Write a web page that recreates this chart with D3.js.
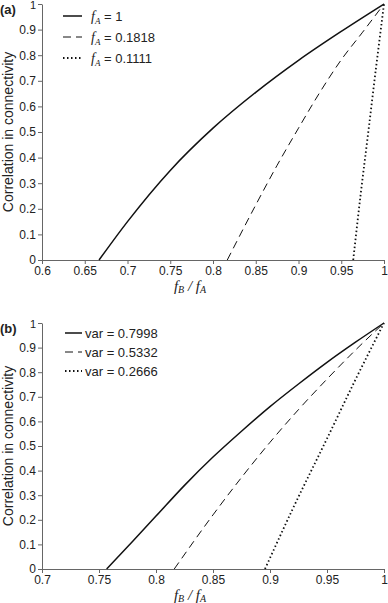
<!DOCTYPE html>
<html>
<head>
<meta charset="utf-8">
<script src="https://cdn.jsdelivr.net/npm/d3@7"></script>
<style>
  body { margin: 0; background: #fff; }
  svg text { font-family: "Liberation Sans", Arial, sans-serif; fill: #222; }
  .it { font-family: "Liberation Serif", "Times New Roman", serif; font-style: italic; }
</style>
</head>
<body>
<svg id="chart" width="388" height="603"></svg>
<script>
// panel (a): f_B/f_A vs correlation, one curve per f_A
var fA1X     = [0.6667, 0.7, 0.75, 0.8, 0.85, 0.9, 0.95, 1];
var fA1Y     = [0, 0.15, 0.35, 0.515, 0.655, 0.78, 0.893, 1];
var fA1818X  = [0.8167, 0.85, 0.875, 0.9, 0.925, 0.95, 0.975, 1];
var fA1818Y  = [0, 0.215, 0.37, 0.515, 0.655, 0.782, 0.89, 1];
var fA1111X  = [0.964, 0.973, 0.982, 0.991, 1];
var fA1111Y  = [0, 0.265, 0.51, 0.76, 1];
var legendA  = ['1', '0.1818', '0.1111'];

// panel (b): one curve per var
var var7998X = [0.7567, 0.78, 0.8, 0.825, 0.85, 0.875, 0.9, 0.925, 0.95, 0.975, 1];
var var7998Y = [0, 0.115, 0.215, 0.34, 0.455, 0.56, 0.66, 0.752, 0.84, 0.922, 1];
var var5332X = [0.816, 0.85, 0.875, 0.9, 0.925, 0.95, 0.975, 1];
var var5332Y = [0, 0.22, 0.372, 0.515, 0.648, 0.772, 0.89, 1];
var var2666X = [0.8956, 0.92, 0.95, 0.975, 1];
var var2666Y = [0, 0.245, 0.53, 0.77, 1];
var legendB  = ['0.7998', '0.5332', '0.2666'];

var xTicksA = [0.6, 0.65, 0.7, 0.75, 0.8, 0.85, 0.9, 0.95, 1];
var xTicksB = [0.7, 0.75, 0.8, 0.85, 0.9, 0.95, 1];
var yTicks  = [0, 0.1, 0.2, 0.3, 0.4, 0.5, 0.6, 0.7, 0.8, 0.9, 1];

var styles = [
    { width: 1.5, dash: null },
    { width: 1, dash: '8,5' },
    { width: 1.8, dash: '1.5,2.5' }
];

var svg = d3.select('#chart');

function zip(xs, ys) {
    return xs.map(function(x, i) { return [x, ys[i]]; });
}

function panel(opt) {
    var x = d3.scaleLinear().domain(opt.xDomain).range([42, 384]);
    var y = d3.scaleLinear().domain([0, 1]).range([opt.bottom, opt.top]);
    var g = svg.append('g');

    // axes
    var xAxis = d3.axisBottom(x).tickValues(opt.xTicks).tickSize(4).tickSizeOuter(0)
        .tickFormat(function(d) { return d3.format('')(+d.toFixed(2)); });
    var yAxis = d3.axisLeft(y).tickValues(yTicks).tickSize(4).tickSizeOuter(0)
        .tickFormat(function(d) { return d3.format('')(+d.toFixed(1)); });

    var gx = g.append('g').attr('transform', 'translate(0,' + opt.bottom + ')').call(xAxis);
    var gy = g.append('g').attr('transform', 'translate(42,0)').call(yAxis);
    [gx, gy].forEach(function(a) {
        a.select('.domain').attr('stroke', '#666');
        a.selectAll('.tick line').attr('stroke', '#666');
        a.selectAll('.tick text').attr('font-size', 12).attr('fill', '#222')
            .attr('font-family', '"Liberation Sans", Arial, sans-serif');
    });
    gx.selectAll('.tick text').attr('y', 5).attr('dy', '0.85em');
    gy.selectAll('.tick text').attr('x', -6);
    // keep the top "1" label inside the page
    gy.selectAll('.tick text').filter(function(d) { return d === 1; })
        .attr('font-size', 11).attr('dy', '0.45em');

    // curves
    var line = d3.line()
        .x(function(d) { return x(d[0]); })
        .y(function(d) { return y(d[1]); })
        .curve(d3.curveMonotoneX);

    opt.series.forEach(function(s, i) {
        g.append('path')
            .attr('d', line(s))
            .attr('fill', 'none')
            .attr('stroke', '#111')
            .attr('stroke-width', styles[i].width)
            .attr('stroke-dasharray', styles[i].dash);
    });

    // legend
    opt.legend.forEach(function(lab, i) {
        var ly = opt.legendY + i * opt.legendGap;
        g.append('line')
            .attr('x1', opt.legendX1).attr('x2', 82)
            .attr('y1', ly).attr('y2', ly)
            .attr('stroke', '#111')
            .attr('stroke-width', styles[i].width)
            .attr('stroke-dasharray', styles[i].dash);
        var t = g.append('text').attr('x', opt.legendTextX).attr('y', ly + 4.5).attr('font-size', 13);
        if (opt.kind === 'fA') {
            t.append('tspan').attr('class', 'it').attr('font-size', 14).text('f');
            t.append('tspan').attr('class', 'it').attr('font-size', 9).attr('dy', 3).text('A');
            t.append('tspan').attr('dy', -3).text(' = ' + lab);
        } else {
            t.text('var = ' + lab);
        }
    });

    // panel label
    g.append('text').attr('x', 0).attr('y', opt.top + 10)
        .attr('font-size', 13).attr('font-weight', 'bold').text(opt.label);

    // y title
    g.append('text')
        .attr('transform', 'translate(13,' + ((opt.top + opt.bottom) / 2) + ') rotate(-90)')
        .attr('text-anchor', 'middle').attr('font-size', 14)
        .text('Correlation in connectivity');

    // x title f_B / f_A
    var xt = g.append('text').attr('x', 190).attr('y', opt.bottom + 31)
        .attr('text-anchor', 'middle').attr('font-size', 15);
    xt.append('tspan').attr('class', 'it').text('f');
    xt.append('tspan').attr('class', 'it').attr('font-size', 10).attr('dy', 2).text('B');
    xt.append('tspan').attr('class', 'it').attr('dy', -2).text(' / f');
    xt.append('tspan').attr('class', 'it').attr('font-size', 10).attr('dy', 2).text('A');
}

panel({
    label: '(a)', kind: 'fA',
    xDomain: [0.6, 1], xTicks: xTicksA, top: 4, bottom: 260,
    series: [zip(fA1X, fA1Y), zip(fA1818X, fA1818Y), zip(fA1111X, fA1111Y)],
    legend: legendA, legendY: 16, legendGap: 21, legendX1: 63, legendTextX: 91
});

panel({
    label: '(b)', kind: 'var',
    xDomain: [0.7, 1], xTicks: xTicksB, top: 323, bottom: 569,
    series: [zip(var7998X, var7998Y), zip(var5332X, var5332Y), zip(var2666X, var2666Y)],
    legend: legendB, legendY: 333, legendGap: 19, legendX1: 65, legendTextX: 85
});
</script>
</body>
</html>
